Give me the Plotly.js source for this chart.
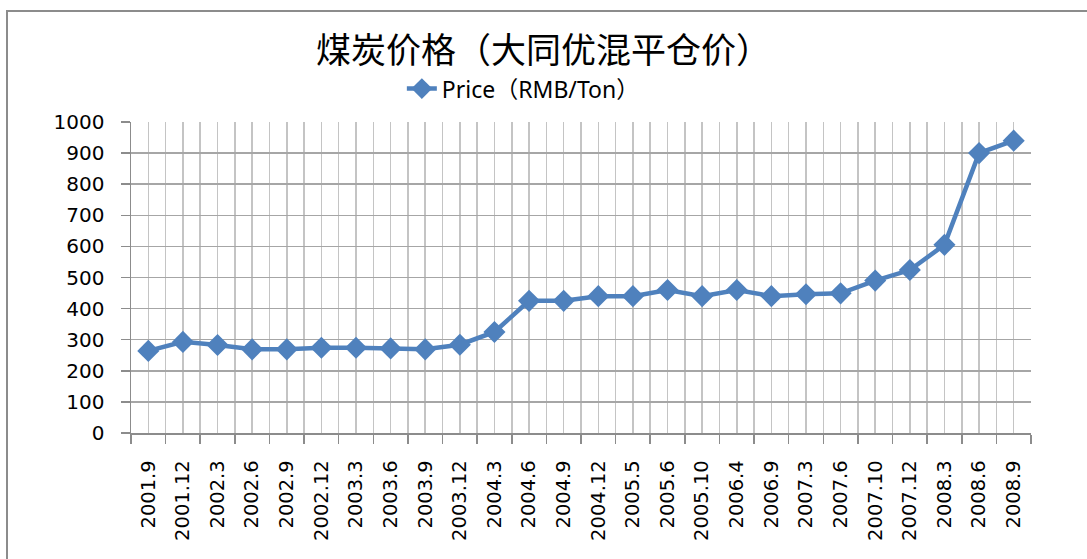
<!DOCTYPE html>
<html>
<head>
<meta charset="utf-8">
<script src="https://cdn.plot.ly/plotly-3.0.1.min.js"></script>
<style>
html,body{margin:0;padding:0;background:#fff;}
#wrap{position:relative;width:1087px;height:559px;}
#chart{position:absolute;left:0;top:0;width:1087px;height:559px;}
#frame{position:absolute;left:6px;top:10px;width:1081px;height:549px;border-left:2px solid #8c8c8c;border-top:2px solid #8c8c8c;pointer-events:none;box-sizing:border-box;}
</style>
</head>
<body>
<div id="wrap">
<div id="chart"></div>
<div id="frame"></div>
</div>
<script>
const categories = ["2001.9","2001.12","2002.3","2002.6","2002.9","2002.12","2003.3","2003.6","2003.9","2003.12",
  "2004.3","2004.6","2004.9","2004.12","2005.5","2005.6","2005.10","2006.4","2006.9","2007.3",
  "2007.6","2007.10","2007.12","2008.3","2008.6","2008.9"];
const prices = [264,293,283,269,269,274,274,272,269,284,
  325,425,425,440,440,460,440,460,440,446,
  449,490,524,605,900,940];
const seriesName = "Price（RMB/Ton）";
const titleText = "煤炭价格（大同优混平仓价）";
const yTicks = [0,100,200,300,400,500,600,700,800,900,1000];

const idx = categories.map((c,i)=>i);

const trace = {
  x: idx, y: prices, name: seriesName, type: 'scatter', mode: 'lines+markers',
  line: {color: '#4f81bd', width: 4.5},
  marker: {symbol: 'diamond', size: 17, color: '#4f81bd'},
  showlegend: true
};

const layout = {
  width: 1087, height: 559,
  margin: {l: 131, r: 55.5, t: 122, b: 126},
  paper_bgcolor: 'rgba(0,0,0,0)', plot_bgcolor: '#fff',
  title: {text: titleText, x: 0.5, xref: 'container', xanchor: 'center', y: 1 - 51/559, yref: 'container', yanchor: 'middle',
    font: {family: '"Noto Sans CJK SC", sans-serif', size: 35, color: '#000'}},
  showlegend: true,
  legend: {orientation: 'h', x: (402-131)/900.5, xanchor: 'left', y: (432.7-89)/310.4, yanchor: 'middle',
    font: {family: '"Noto Sans", "Noto Sans CJK SC", sans-serif', size: 23, color: '#000'}, bgcolor: 'rgba(0,0,0,0)'},
  xaxis: {
    type: 'linear', range: [-0.5, categories.length - 0.5],
    tickmode: 'array', tickvals: idx, ticktext: categories, tickangle: -90,
    ticks: '', showgrid: true, gridcolor: '#c4c4c4', gridwidth: 1.5,
    minor: {tick0: -0.5, dtick: 1, showgrid: true, gridcolor: '#c4c4c4', gridwidth: 1.5, ticks: 'outside', ticklen: 9, tickcolor: '#8c8c8c', tickwidth: 1.5},
    showline: true, linecolor: '#8c8c8c', linewidth: 1.5, mirror: false,
    tickfont: {family: '"DejaVu Sans", sans-serif', size: 19.5, color: '#000'},
    ticklabelstandoff: 18, zeroline: false, fixedrange: true
  },
  yaxis: {
    range: [0, 1000], tickmode: 'array', tickvals: yTicks, ticktext: yTicks.map(String),
    ticks: 'outside', ticklen: 9, tickcolor: '#8c8c8c', tickwidth: 1.5,
    showgrid: true, gridcolor: '#a6a6a6', gridwidth: 1.5,
    showline: true, linecolor: '#8c8c8c', linewidth: 1.5,
    tickfont: {family: '"DejaVu Sans", sans-serif', size: 20, color: '#000'},
    ticklabelstandoff: 12, zeroline: false, fixedrange: true
  }
};

Plotly.newPlot('chart', [trace], layout, {displayModeBar: false, staticPlot: true});
</script>
</body>
</html>
